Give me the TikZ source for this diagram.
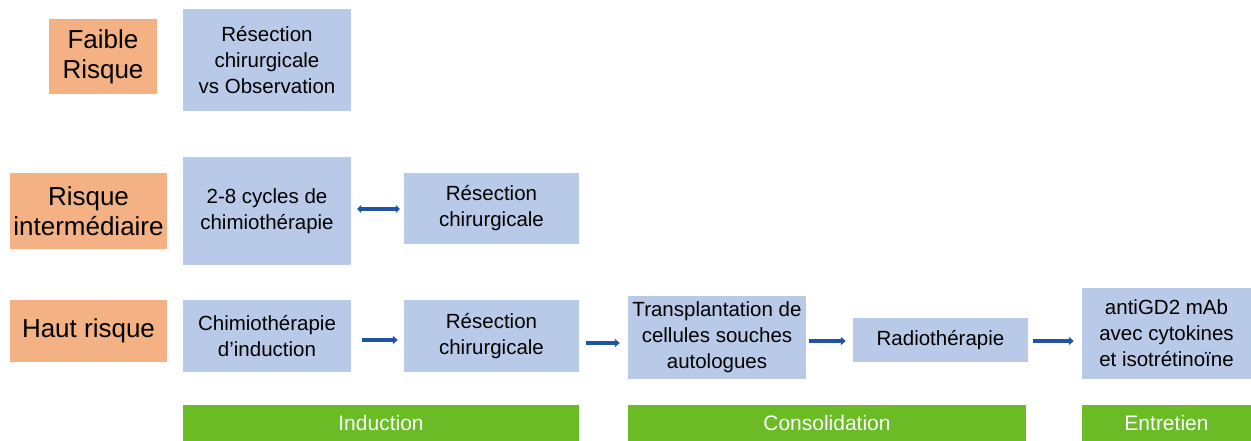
\documentclass[tikz,border=0pt]{standalone}
\usepackage{fontspec}
\setmainfont{Liberation Sans}
\usetikzlibrary{arrows.meta}
\definecolor{risqueorange}{RGB}{244,177,131}
\definecolor{boxblue}{RGB}{184,202,232}
\definecolor{phasegreen}{RGB}{106,187,38}
\definecolor{arrowblue}{RGB}{31,84,165}
\begin{document}
\begin{tikzpicture}[x=1pt,y=-1pt,
  risk/.style={fill=risqueorange,inner sep=0pt,align=center,
    font=\fontsize{26}{30}\selectfont},
  treat/.style={fill=boxblue,inner sep=0pt,align=center,
    font=\fontsize{20.5}{26}\selectfont},
  phase/.style={fill=phasegreen,text=white,inner sep=0pt,minimum height=36pt,
    font=\fontsize{21}{26}\selectfont},
  flow/.style={arrowblue,line width=4.5pt,-{Triangle[length=5pt,width=8pt]}}]
\useasboundingbox (0,0) rectangle (1251,441);

% risk groups
\node[risk,minimum width=108pt,minimum height=75pt] (faible) at (103,56.5) {Faible\\Risque};
\node[risk,minimum width=157pt,minimum height=76pt] (inter) at (88.5,211) {Risque\\intermédiaire};
\node[risk,minimum width=157pt,minimum height=62pt] (haut) at (88.5,331) {Haut risque};

% treatments
\node[treat,minimum width=168pt,minimum height=102pt] (obs) at (267,60) {Résection\\chirurgicale\\vs Observation};
\node[treat,minimum width=168pt,minimum height=108pt] (cycles) at (267,211) {2-8 cycles de\\chimiothérapie};
\node[treat,minimum width=175pt,minimum height=71pt] (resinter) at (491.5,208.5) {Résection\\chirurgicale};
\node[treat,minimum width=168pt,minimum height=72pt] (chimio) at (267,336) {Chimiothérapie\\d'induction};
\node[treat,minimum width=175pt,minimum height=72pt] (reshaut) at (491.5,336) {Résection\\chirurgicale};
\node[treat,minimum width=178pt,minimum height=83pt] (transp) at (717,337.5) {Transplantation de\\cellules souches\\autologues};
\node[treat,minimum width=175pt,minimum height=44pt] (radio) at (940.5,340) {Radiothérapie};
\node[treat,minimum width=169pt,minimum height=91pt] (anti) at (1166.5,333.5) {antiGD2 mAb\\avec cytokines\\et isotrétinoïne};

% phases
\node[phase,minimum width=396pt] (induction) at (381,423) {Induction};
\node[phase,minimum width=398pt] (consol) at (827,423) {Consolidation};
\node[phase,minimum width=169pt] (entretien) at (1166.5,423) {Entretien};

% arrows
\draw[arrowblue,line width=4pt,{Triangle[length=4pt,width=8pt]}-{Triangle[length=4pt,width=8pt]},
  shorten <=6pt,shorten >=4pt] ([yshift=2pt]cycles.east) -- ([yshift=-0.5pt]resinter.west);
\draw[flow,shorten <=11pt,shorten >=6pt] ([yshift=-4pt]chimio.east) -- ([yshift=-4pt]reshaut.west);
\draw[flow,shorten <=7pt,shorten >=8pt] ([yshift=-7pt]reshaut.east) -- ([yshift=-5.5pt]transp.west);
\draw[flow,shorten <=3pt,shorten >=7pt] ([yshift=-3.5pt]transp.east) -- ([yshift=-1pt]radio.west);
\draw[flow,shorten <=5pt,shorten >=8pt] ([yshift=-1pt]radio.east) -- ([yshift=-7.5pt]anti.west);
\end{tikzpicture}
\end{document}
